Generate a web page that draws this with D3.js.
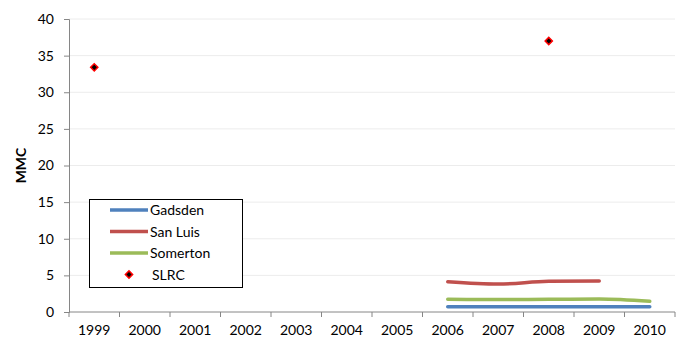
<!DOCTYPE html>
<html>
<head>
<meta charset="utf-8">
<script src="https://cdn.jsdelivr.net/npm/d3@7"></script>
<style>
  html, body { margin: 0; padding: 0; background: #fff; }
  svg { display: block; font-family: "Lato", "Open Sans", sans-serif; }
</style>
</head>
<body>
<svg id="chart" width="683" height="337"></svg>
<script>
// Years on the category axis
const years = ["1999","2000","2001","2002","2003","2004","2005","2006","2007","2008","2009","2010"];
const yTicks = [0, 5, 10, 15, 20, 25, 30, 35, 40];

// Line series (yearly values, MMC)
const gadsden  = [["2006",0.72],["2007",0.72],["2008",0.72],["2009",0.72],["2010",0.72]];
const sanLuis  = [["2006",4.13],["2007",3.82],["2008",4.19],["2009",4.23]];
const somerton = [["2006",1.73],["2007",1.7],["2008",1.73],["2009",1.78],["2010",1.46]];
// Point series
const slrc     = [["1999",33.4],["2008",37.0]];

const seriesNames  = ["Gadsden", "San Luis", "Somerton", "SLRC"];
const seriesColors = ["#4F81BD", "#C0504D", "#9BBB59", "#000000"];

const svg = d3.select("#chart");
const margin = {left: 69, right: 8, top: 19, bottom: 25};
const W = 683, H = 337;
const FS = 14;

const x = d3.scaleBand().domain(years).range([margin.left, W - margin.right]);
const y = d3.scaleLinear().domain([0, 40]).range([H - margin.bottom, margin.top]);

// Horizontal gridlines
svg.append("g")
  .selectAll("line")
  .data(yTicks.filter(d => d > 0))
  .join("line")
  .attr("x1", margin.left).attr("x2", W - margin.right)
  .attr("y1", d => y(d)).attr("y2", d => y(d))
  .attr("stroke", "#ececec").attr("stroke-width", 1);

// Y axis
const yAxis = svg.append("g")
  .attr("transform", `translate(${margin.left},0)`)
  .call(d3.axisLeft(y).tickValues(yTicks).tickSize(5).tickPadding(10));
yAxis.selectAll("path, line").attr("stroke", "#868686");
yAxis.selectAll("text").attr("font-size", FS).attr("fill", "#000")
  .attr("font-family", "Lato, 'Open Sans', sans-serif");

// X axis: ticks between categories
const xAxisG = svg.append("g")
  .attr("transform", `translate(0,${y(0)})`);
xAxisG.append("line")
  .attr("x1", margin.left).attr("x2", W - margin.right)
  .attr("stroke", "#868686");
const bounds = years.map(d => x(d)).concat([x(years[years.length - 1]) + x.bandwidth()]);
xAxisG.selectAll("line.tick")
  .data(bounds)
  .join("line").attr("class", "tick")
  .attr("x1", d => d).attr("x2", d => d)
  .attr("y1", 0).attr("y2", 5)
  .attr("stroke", "#868686");
xAxisG.selectAll("text")
  .data(years)
  .join("text")
  .attr("x", d => x(d) + x.bandwidth() / 2)
  .attr("y", 23)
  .attr("text-anchor", "middle")
  .attr("font-size", FS)
  .text(d => d);

// Axis title
svg.append("text")
  .attr("transform", `translate(26,${(y(0) + y(40)) / 2}) rotate(-90)`)
  .attr("text-anchor", "middle")
  .attr("font-size", FS).attr("font-weight", "bold")
  .text("MMC");

const cx = d => x(d) + x.bandwidth() / 2;
const line = d3.line().x(d => cx(d[0])).y(d => y(d[1])).curve(d3.curveMonotoneX);

[gadsden, sanLuis, somerton].forEach((s, i) => {
  svg.append("path")
    .datum(s)
    .attr("d", line)
    .attr("fill", "none")
    .attr("stroke", seriesColors[i])
    .attr("stroke-width", 3.5)
    .attr("stroke-linecap", "round");
});

// Square diamond marker (rotated square)
const marker = d3.symbol().type(d3.symbolSquare).size(26);
svg.append("g").selectAll("path")
  .data(slrc)
  .join("path")
  .attr("transform", d => `translate(${cx(d[0])},${y(d[1])}) rotate(45)`)
  .attr("d", marker)
  .attr("fill", "#000").attr("stroke", "#ff0000").attr("stroke-width", 1.5);

// Legend
const lg = svg.append("g").attr("transform", "translate(89,199)");
lg.append("rect")
  .attr("x", 0.5).attr("y", 0.5).attr("width", 153).attr("height", 88)
  .attr("fill", "#fff").attr("stroke", "#000").attr("stroke-width", 1);
seriesNames.forEach((name, i) => {
  const ry = 11 + i * 21.5;
  if (i < 3) {
    lg.append("line")
      .attr("x1", 21).attr("x2", 59).attr("y1", ry).attr("y2", ry)
      .attr("stroke", seriesColors[i]).attr("stroke-width", 3.5);
  } else {
    lg.append("path")
      .attr("transform", `translate(40,${ry}) rotate(45)`)
      .attr("d", marker)
      .attr("fill", "#000").attr("stroke", "#ff0000").attr("stroke-width", 1.5);
  }
  lg.append("text")
    .attr("x", i < 3 ? 61 : 63).attr("y", ry + 5)
    .attr("font-size", FS)
    .text(name);
});
</script>
</body>
</html>
